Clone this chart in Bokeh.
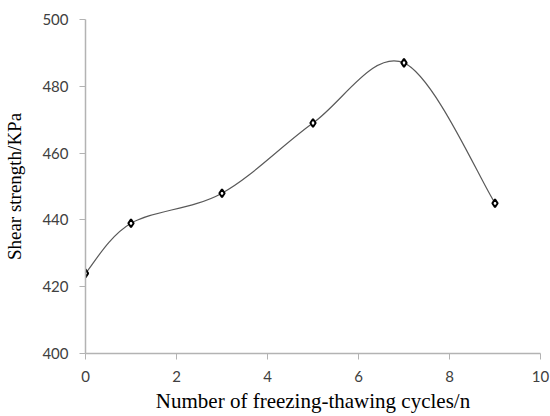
from bokeh.plotting import figure
from bokeh.embed import file_html
from bokeh.resources import INLINE
from bokeh.models import Range1d, FixedTicker
import numpy as np

cycles = [0, 1, 3, 5, 7, 9]
strength = [424, 439, 448, 469, 487, 445]
x_ticks = [0, 2, 4, 6, 8, 10]
y_ticks = [400, 420, 440, 460, 480, 500]

p = figure(frame_width=455, frame_height=334, output_backend="svg", toolbar_location=None,
           x_range=Range1d(0, 10), y_range=Range1d(400, 500),
           min_border_left=85, min_border_right=10, min_border_top=19, min_border_bottom=63)
p.outline_line_color = None
p.xgrid.grid_line_color = None
p.ygrid.grid_line_color = None
p.background_fill_color = "white"
p.border_fill_color = "white"

# smooth curve (Catmull-Rom style Bezier through data points)
xs = np.array(cycles, dtype=float)
ys = np.array(strength, dtype=float)
n = len(xs)
x0, y0, x1, y1, cx0, cy0, cx1, cy1 = ([] for _ in range(8))
for i in range(n - 1):
    pm = max(i - 1, 0)
    pp = min(i + 2, n - 1)
    x0.append(xs[i]); y0.append(ys[i])
    x1.append(xs[i + 1]); y1.append(ys[i + 1])
    cx0.append(xs[i] + (xs[i + 1] - xs[pm]) / 6.0)
    cy0.append(ys[i] + (ys[i + 1] - ys[pm]) / 6.0)
    cx1.append(xs[i + 1] - (xs[pp] - xs[i]) / 6.0)
    cy1.append(ys[i + 1] - (ys[pp] - ys[i]) / 6.0)
p.bezier(x0=x0, y0=y0, x1=x1, y1=y1, cx0=cx0, cy0=cy0, cx1=cx1, cy1=cy1,
         line_color="#5a5a5a", line_width=1.2)

p.scatter(cycles, strength, marker="diamond", size=8, fill_color="white",
          line_color="black", line_width=2)

for ax in (p.xaxis, p.yaxis):
    ax.axis_line_color = "#b3b3b3"
    ax.axis_line_width = 1.5
    ax.major_tick_line_color = "#b3b3b3"
    ax.major_tick_line_width = 1
    ax.major_tick_in = 0
    ax.major_tick_out = 6
    ax.minor_tick_line_color = None
    ax.major_label_text_font = "Lato"
    ax.major_label_text_font_size = "15px"
    ax.major_label_text_color = "#404040"
    ax.axis_label_text_font = "Liberation Serif"
    ax.axis_label_text_font_size = "19px"
    ax.axis_label_text_font_style = "normal"
    ax.axis_label_text_color = "black"

p.xaxis.axis_label_text_font_size = "21px"
p.xaxis.ticker = FixedTicker(ticks=x_ticks)
p.yaxis.ticker = FixedTicker(ticks=y_ticks)
p.xaxis.axis_label = "Number of freezing-thawing cycles/n"
p.yaxis.axis_label = "Shear strength/KPa"
p.xaxis.major_label_standoff = 11
p.yaxis.major_label_standoff = 11
p.xaxis.axis_label_standoff = 4
p.yaxis.axis_label_standoff = 14

open("out.html", "w").write(file_html(p, INLINE))
